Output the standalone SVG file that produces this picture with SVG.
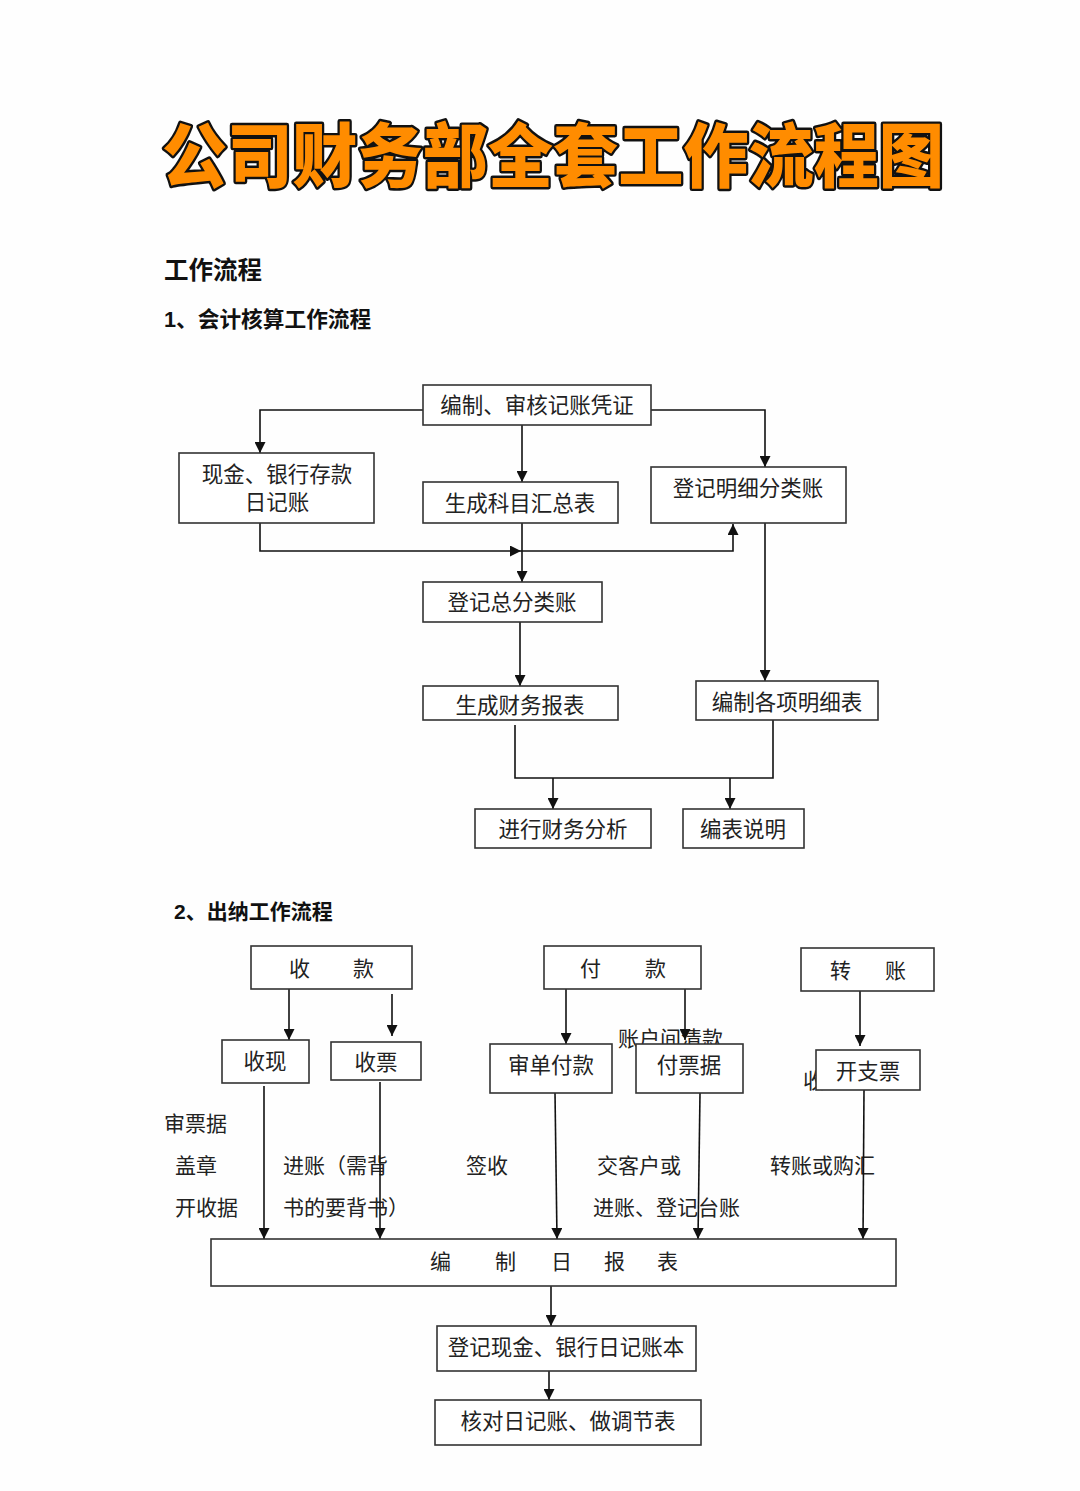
<svg xmlns="http://www.w3.org/2000/svg" width="1080" height="1491" viewBox="0 0 1080 1491">
<defs>
<marker id="ah" markerUnits="userSpaceOnUse" markerWidth="11" markerHeight="11" refX="11" refY="5.5" orient="auto">
<path d="M0,0 L11,5.5 L0,11 z" fill="#111"/>
</marker>
<style>
.box{fill:#fff;stroke:#333;stroke-width:1.6}
.t{font-family:"Liberation Sans","Noto Sans CJK SC",sans-serif;font-size:21.5px;fill:#222;text-anchor:middle;dominant-baseline:central}
.l{font-family:"Liberation Sans","Noto Sans CJK SC",sans-serif;font-size:21px;fill:#222;dominant-baseline:central}
.h{font-family:"Liberation Sans","Noto Sans CJK SC",sans-serif;font-weight:bold;fill:#111;dominant-baseline:central}
.c{fill:none;stroke:#111;stroke-width:1.6}
.a{fill:none;stroke:#111;stroke-width:1.6;marker-end:url(#ah)}
</style>
</defs>
<rect width="1080" height="1491" fill="#fefefe"/>
<g id="title">
<text x="553" y="0" transform="translate(0,151) scale(1,1.1)" font-family="'Noto Sans CJK SC',sans-serif" font-weight="900" font-size="64" fill="#FF8C00" stroke="#111" stroke-width="4.5" stroke-linejoin="round" paint-order="stroke" text-anchor="middle" dominant-baseline="central" textLength="782" lengthAdjust="spacingAndGlyphs">公司财务部全套工作流程图</text>
</g>
<g id="headings">
<text class="h" x="164" y="270" font-size="24.5">工作流程</text>
<text class="h" x="164" y="319" font-size="21.7">1、会计核算工作流程</text>
<text class="h" x="174" y="911" font-size="21">2、出纳工作流程</text>
</g>
<g id="labels">
<text class="l" x="164" y="1123">审票据</text>
<text class="l" x="175" y="1165">盖章</text>
<text class="l" x="175" y="1207">开收据</text>
<text class="l" x="283" y="1165">进账（需背</text>
<text class="l" x="283" y="1207">书的要背书）</text>
<text class="l" x="466" y="1165">签收</text>
<text class="l" x="597" y="1165">交客户或</text>
<text class="l" x="593" y="1207">进账、登记台账</text>
<text class="l" x="770" y="1165">转账或购汇</text>
<text class="l" x="618" y="1038">账户间清款</text>
<text class="l" x="803" y="1080">收</text>
</g>
<g id="connectors">
<polyline class="a" points="423,410 260,410 260,453"/>
<polyline class="a" points="651,410 765,410 765,467"/>
<line class="a" x1="522" y1="425" x2="522" y2="482"/>
<polyline class="a" points="260,523 260,551 521,551"/>
<polyline class="a" points="521,551 733,551 733,524"/>
<line class="a" x1="522" y1="523" x2="522" y2="582"/>
<line class="a" x1="765" y1="523" x2="765" y2="681"/>
<line class="a" x1="520" y1="622" x2="520" y2="686"/>
<polyline class="c" points="515,725 515,778 773,778 773,720"/>
<line class="a" x1="553" y1="778" x2="553" y2="809"/>
<line class="a" x1="730" y1="778" x2="730" y2="809"/>
<line class="a" x1="289" y1="989" x2="289" y2="1040"/>
<line class="a" x1="392" y1="994" x2="392" y2="1036"/>
<line class="a" x1="566" y1="989" x2="566" y2="1044"/>
<line class="a" x1="685" y1="989" x2="685" y2="1040"/>
<line class="a" x1="860" y1="991" x2="860" y2="1046"/>
<line class="a" x1="264" y1="1086" x2="264" y2="1239"/>
<line class="a" x1="380" y1="1082" x2="380" y2="1239"/>
<line class="a" x1="555" y1="1093" x2="557" y2="1239"/>
<line class="a" x1="700" y1="1093" x2="698" y2="1239"/>
<line class="a" x1="864" y1="1090" x2="863" y2="1239"/>
<line class="a" x1="551" y1="1286" x2="551" y2="1326"/>
<line class="a" x1="549" y1="1371" x2="549" y2="1400"/>
</g>
<g id="n-bianzhi"><rect class="box" x="423" y="385" width="228" height="40"/><text class="t" x="537" y="406">编制、审核记账凭证</text></g>
<g id="n-xianjin"><rect class="box" x="179" y="453" width="195" height="70"/><text class="t" x="277" y="475">现金、银行存款</text><text class="t" x="277" y="503">日记账</text></g>
<g id="n-kemu"><rect class="box" x="423" y="482" width="195" height="41"/><text class="t" x="520" y="504">生成科目汇总表</text></g>
<g id="n-mingxi"><rect class="box" x="651" y="467" width="195" height="56"/><text class="t" x="748" y="489">登记明细分类账</text></g>
<g id="n-zongfen"><rect class="box" x="423" y="582" width="179" height="40"/><text class="t" x="512" y="603">登记总分类账</text></g>
<g id="n-baobiao"><rect class="box" x="423" y="686" width="195" height="34"/><text class="t" x="520" y="706">生成财务报表</text></g>
<g id="n-mingxibiao"><rect class="box" x="696" y="681" width="182" height="39"/><text class="t" x="787" y="703">编制各项明细表</text></g>
<g id="n-fenxi"><rect class="box" x="475" y="809" width="176" height="39"/><text class="t" x="563" y="830">进行财务分析</text></g>
<g id="n-shuoming"><rect class="box" x="683" y="809" width="121" height="39"/><text class="t" x="743" y="830">编表说明</text></g>
<g id="n-shoukuan"><rect class="box" x="251" y="946" width="161" height="43"/><text class="l" x="289" y="968">收</text><text class="l" x="353" y="968">款</text></g>
<g id="n-fukuan"><rect class="box" x="544" y="946" width="157" height="43"/><text class="l" x="580" y="968">付</text><text class="l" x="645" y="968">款</text></g>
<g id="n-zhuanzhang"><rect class="box" x="801" y="948" width="133" height="43"/><text class="l" x="830" y="970">转</text><text class="l" x="885" y="970">账</text></g>
<g id="n-shouxian"><rect class="box" x="222" y="1040" width="87" height="43"/><text class="t" x="265" y="1062">收现</text></g>
<g id="n-shoupiao"><rect class="box" x="331" y="1042" width="90" height="38"/><text class="t" x="376" y="1063">收票</text></g>
<g id="n-shendan"><rect class="box" x="490" y="1044" width="122" height="49"/><text class="t" x="551" y="1066">审单付款</text></g>
<g id="n-fupiao"><rect class="box" x="636" y="1044" width="107" height="49"/><text class="t" x="689" y="1066">付票据</text></g>
<g id="n-kaizhi"><rect class="box" x="816" y="1050" width="104" height="40"/><text class="t" x="868" y="1072">开支票</text></g>
<g id="n-ribao"><rect class="box" x="211" y="1239" width="685" height="47"/><text class="l" x="430" y="1261">编</text><text class="l" x="495" y="1261">制</text><text class="l" x="551" y="1261">日</text><text class="l" x="604" y="1261">报</text><text class="l" x="657" y="1261">表</text></g>
<g id="n-dengji"><rect class="box" x="437" y="1326" width="259" height="45"/><text class="t" x="566" y="1348">登记现金、银行日记账本</text></g>
<g id="n-hedui"><rect class="box" x="435" y="1400" width="266" height="45"/><text class="t" x="568" y="1422">核对日记账、做调节表</text></g>
</svg>
